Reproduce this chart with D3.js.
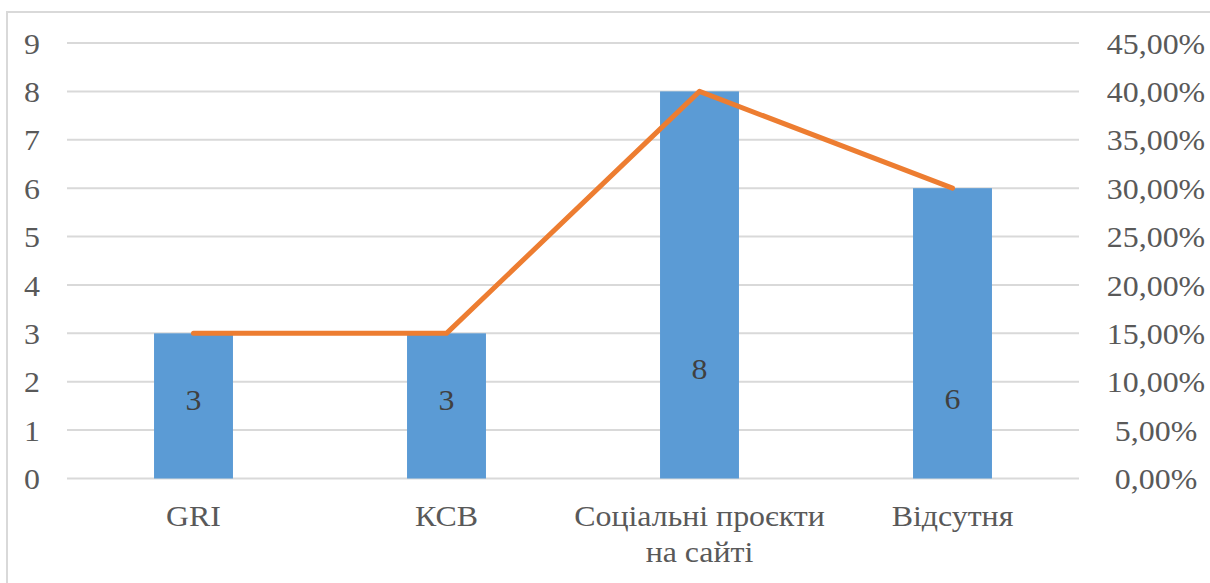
<!DOCTYPE html>
<html>
<head>
<meta charset="utf-8">
<script src="https://d3js.org/d3.v7.min.js"></script>
<style>
  body { margin:0; background:#fff; }
</style>
</head>
<body>
<div id="chart"></div>
<script>
// data
const categories = [["GRI"], ["КСВ"], ["Соціальні проєкти", "на сайті"], ["Відсутня"]];
const counts = [3, 3, 8, 6];
const shares = [0.15, 0.15, 0.40, 0.30];
const leftTicks = [0, 1, 2, 3, 4, 5, 6, 7, 8, 9];
const rightTicks = [0, 0.05, 0.10, 0.15, 0.20, 0.25, 0.30, 0.35, 0.40, 0.45];
// where each data label sits, in left-axis units
const labelAt = [1.62, 1.62, 2.26, 1.64];

const width = 1210, height = 583;
const plotL = 67, plotR = 1079, plotT = 43, plotB = 478.5;
const FONT = "'Liberation Serif'";
const FS = "29px";
const STRETCH = "scale(1.1,1)";   // the original text is a little wide

const svg = d3.select("#chart").append("svg")
    .attr("width", width)
    .attr("height", height);

// chart frame (runs off the bottom and right of the picture)
svg.append("rect")
    .attr("x", 7).attr("y", 12)
    .attr("width", 1220).attr("height", 600)
    .attr("fill", "#fff")
    .attr("stroke", "#d9d9d9")
    .attr("stroke-width", 2);

const x = d3.scaleBand()
    .domain(d3.range(categories.length))
    .range([plotL, plotR])
    .paddingInner(0.688)
    .paddingOuter(0.344);

const yL = d3.scaleLinear().domain([0, 9]).range([plotB, plotT]);
const yR = d3.scaleLinear().domain([0, 0.45]).range([plotB, plotT]);

// gridlines
svg.append("g").selectAll("line")
    .data(leftTicks)
    .enter().append("line")
    .attr("x1", plotL).attr("x2", plotR)
    .attr("y1", d => yL(d)).attr("y2", d => yL(d))
    .attr("stroke", "#d9d9d9")
    .attr("stroke-width", 2);

// left axis
const yAxisL = d3.axisLeft(yL).tickValues(leftTicks).tickSize(0).tickPadding(0);
const gl = svg.append("g")
    .attr("transform", "translate(32,0)")
    .call(yAxisL);
gl.select(".domain").remove();
gl.attr("font-family", null).attr("font-size", null);
gl.selectAll("text")
    .attr("x", 0)
    .attr("text-anchor", "middle")
    .attr("dy", "0.35em")
    .attr("transform", STRETCH)
    .style("font-family", FONT)
    .style("font-size", FS)
    .style("fill", "#595959");

// right axis
const fmt = d => d3.format(".2f")(d * 100).replace(".", ",") + "%";
const yAxisR = d3.axisRight(yR).tickValues(rightTicks).tickFormat(fmt).tickSize(0).tickPadding(0);
const gr = svg.append("g")
    .attr("transform", "translate(1156,0)")
    .call(yAxisR);
gr.select(".domain").remove();
gr.attr("font-family", null).attr("font-size", null);
gr.selectAll("text")
    .attr("x", 0)
    .attr("text-anchor", "middle")
    .attr("dy", "0.35em")
    .attr("transform", STRETCH)
    .style("font-family", FONT)
    .style("font-size", FS)
    .style("fill", "#595959");

// bars
svg.append("g").selectAll("rect")
    .data(counts)
    .enter().append("rect")
    .attr("x", (d, i) => x(i))
    .attr("y", d => yL(d))
    .attr("width", x.bandwidth())
    .attr("height", d => yL(0) - yL(d))
    .attr("fill", "#5b9bd5");

// bar labels
svg.append("g").selectAll("g")
    .data(counts)
    .enter().append("g")
    .attr("transform", (d, i) => "translate(" + (x(i) + x.bandwidth() / 2) + "," + yL(labelAt[i]) + ")")
    .append("text")
    .attr("dy", "0.35em")
    .attr("text-anchor", "middle")
    .attr("transform", STRETCH)
    .style("font-family", FONT)
    .style("font-size", FS)
    .style("fill", "#404040")
    .text(d => d);

// line on the right axis
const line = d3.line()
    .x((d, i) => x(i) + x.bandwidth() / 2)
    .y(d => yR(d));
svg.append("path")
    .datum(shares)
    .attr("d", line)
    .attr("fill", "none")
    .attr("stroke", "#ed7d31")
    .attr("stroke-width", 5)
    .attr("stroke-linejoin", "round")
    .attr("stroke-linecap", "round");

// category labels
const cl = svg.append("g").selectAll("g")
    .data(categories)
    .enter().append("g")
    .attr("transform", (d, i) => "translate(" + (x(i) + x.bandwidth() / 2) + ",526)")
    .append("text")
    .attr("text-anchor", "middle")
    .attr("transform", STRETCH)
    .style("font-family", FONT)
    .style("font-size", FS)
    .style("fill", "#595959");
cl.selectAll("tspan")
    .data(d => d)
    .enter().append("tspan")
    .attr("x", 0)
    .attr("dy", (d, i) => i ? 36 : 0)
    .text(d => d);
</script>
</body>
</html>
